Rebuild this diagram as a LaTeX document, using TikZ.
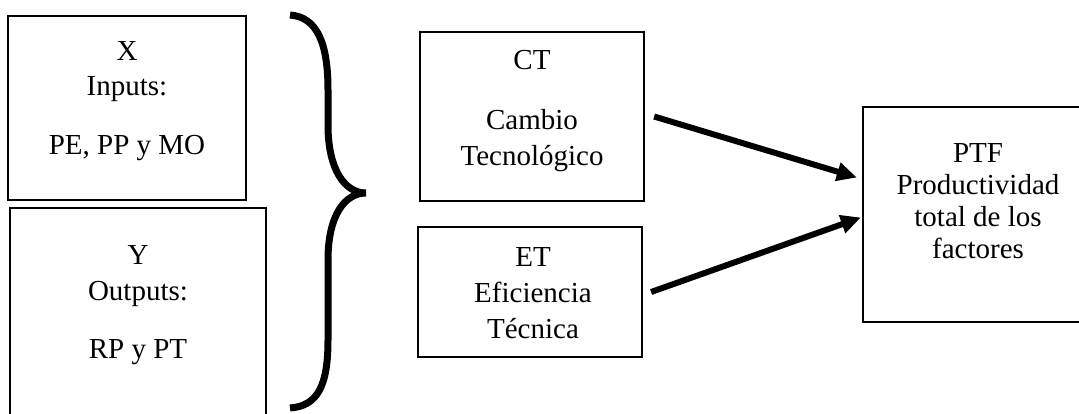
\documentclass[tikz,border=0pt]{standalone}
\usepackage{fontspec}
\setmainfont{Liberation Serif}
\usetikzlibrary{arrows.meta}

\begin{document}
\begin{tikzpicture}[x=1pt,y=-1pt,
	box/.style={draw,line width=2.2pt,inner sep=0pt},
	txt/.style={align=center,inner sep=0pt,anchor=north,font=\fontsize{29}{36}\selectfont},
	flow/.style={line width=6pt,-{Triangle[length=20pt,width=18pt]}}
	]

\useasboundingbox (0,0) rectangle (1079,413);

% The boxes
\node[box,minimum width=238,minimum height=184] (xbox) at (127,108) {};
\node[box,minimum width=256,minimum height=262] (ybox) at (138,339) {};
\node[box,minimum width=224,minimum height=169] (ctbox) at (532,116.5) {};
\node[box,minimum width=224,minimum height=130] (etbox) at (530,292) {};
\node[box,minimum width=230,minimum height=215] (ptfbox) at (978,214.5) {};

% The texts
\node[txt] (xtxt) at (127,41) {X\\[-1pt]Inputs:\\[23pt]PE, PP y MO};
\node[txt] (ytxt) at (138,245) {Y\\Outputs:\\[22pt]RP y PT};
\node[txt] (cttxt) at (532,50) {CT\\[24pt]Cambio\\Tecnológico};
\node[txt] (ettxt) at (533,247) {ET\\Eficiencia\\Técnica};
\node[txt] (ptftxt) at (978,143) {PTF\\[-4pt]Productividad\\[-4pt]total de los\\[-4pt]factores};

% The brace
\draw[line width=7pt]
    (290,15)
 .. controls (318,17) and (328,45) .. (328,90)
 -- (328,125)
 .. controls (328,170) and (345,193) .. (366,193)
 .. controls (345,193) and (328,215) .. (328,260)
 -- (328,340)
 .. controls (328,385) and (318,406) .. (290,408);

% The arrows
\draw[flow] ([xshift=9pt]ctbox.east) -- ([xshift=-5pt,yshift=37pt]ptfbox.west);
\draw[flow] ([xshift=8pt]etbox.east) -- ([xshift=-1pt,yshift=-3pt]ptfbox.west);

\end{tikzpicture}
\end{document}
